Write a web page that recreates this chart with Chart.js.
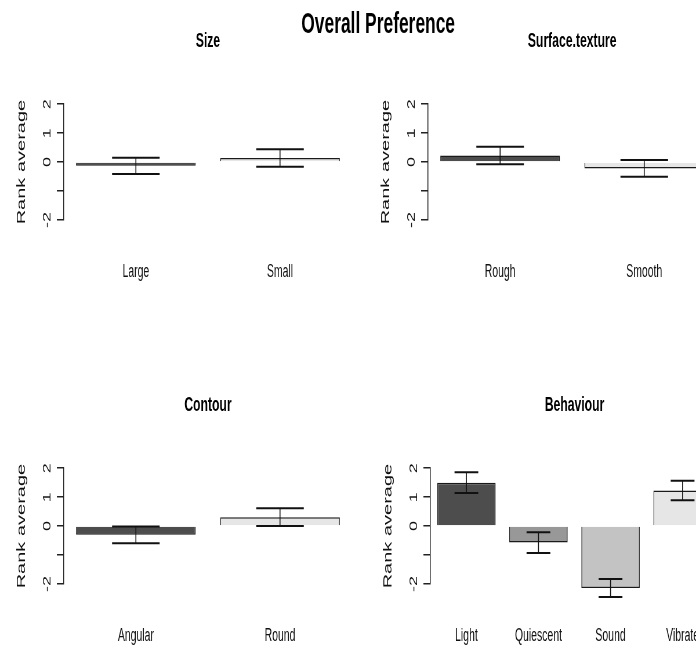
<!DOCTYPE html>
<html>
<head>
<meta charset="utf-8">
<script src="https://cdn.jsdelivr.net/npm/chart.js@4.4.1/dist/chart.umd.min.js"></script>
<style>
  html, body { margin: 0; padding: 0; background: #fff; width: 696px; height: 648px; overflow: hidden; }
  #wrap { position: absolute; left: 0; top: 0; width: 1200px; height: 648px; overflow: hidden;
          transform: scaleX(0.58); transform-origin: 0 0; }
  canvas { position: absolute; }
  #main { position: absolute; left: 452px; width: 400px; top: 8px; text-align: center;
          font: bold 30px "Liberation Sans", Arial, sans-serif; line-height: 30px; color: #000; }
</style>
</head>
<body>
<div id="wrap">
  <canvas id="c1" width="717" height="300" style="left:0px;top:0px"></canvas>
  <canvas id="c2" width="717" height="300" style="left:628px;top:0px"></canvas>
  <canvas id="c3" width="717" height="300" style="left:0px;top:364px"></canvas>
  <canvas id="c4" width="717" height="300" style="left:632px;top:364px"></canvas>
  <div id="main">Overall Preference</div>
</div>
<script>
// ---- data ----
const sizeLabels = ['Large', 'Small'];
const sizeMeans = [-0.13, 0.14];
const sizeErr = [0.28, 0.30];

const textureLabels = ['Rough', 'Smooth'];
const textureMeans = [0.23, -0.22];
const textureErr = [0.30, 0.29];

const contourLabels = ['Angular', 'Round'];
const contourMeans = [-0.30, 0.31];
const contourErr = [0.29, 0.31];

const behaviourLabels = ['Light', 'Quiescent', 'Sound', 'Vibrate'];
const behaviourMeans = [1.50, -0.57, -2.14, 1.23];
const behaviourErr = [0.36, 0.36, 0.31, 0.34];

const yTicks = [-2, -1, 0, 1, 2];
const yTickLabels = ['-2', '', '0', '1', '2'];

const greys2 = ['#4D4D4D', '#E6E6E6'];
const greys4 = ['#4D4D4D', '#989898', '#C3C3C3', '#E6E6E6'];

Chart.defaults.font.family = '"Liberation Sans", Arial, sans-serif';
Chart.defaults.color = '#111';

function makePanel(id, title, labels, means, errs, colors, barPct) {
  const errData = labels.flatMap((c, i) => [
    { x: c, y: means[i] - errs[i] },
    { x: c, y: means[i] + errs[i] },
    { x: c, y: null }
  ]);
  new Chart(document.getElementById(id), {
    type: 'bar',
    data: {
      labels: labels,
      datasets: [
        {
          type: 'bar',
          data: means,
          backgroundColor: colors,
          borderColor: '#1a1a1a',
          borderWidth: 1.5,
          categoryPercentage: 1,
          barPercentage: barPct,
          clip: false,
          order: 1
        },
        {
          type: 'line',
          data: errData,
          borderColor: '#111',
          borderWidth: 1.6,
          spanGaps: false,
          pointStyle: 'line',
          pointBorderColor: '#111',
          pointBorderWidth: 2,
          pointRadius: (ctx) => {
            const xs = ctx.chart.scales.x;
            return xs.width / labels.length * 0.165;
          },
          clip: false,
          order: 0
        }
      ]
    },
    options: {
      responsive: false,
      animation: false,
      events: [],
      layout: { padding: 0 },
      plugins: {
        legend: { display: false },
        tooltip: { enabled: false },
        title: {
          display: true,
          text: title,
          color: '#000',
          font: { size: 21, weight: 'bold' },
          padding: { top: 29, bottom: 50 }
        }
      },
      scales: {
        x: {
          type: 'category',
          offset: true,
          grid: { display: false },
          border: { display: false },
          ticks: { font: { size: 18 }, color: '#111', padding: 33, autoSkip: false, maxRotation: 0 },
          afterFit: (s) => { s.height = 80; }
        },
        y: {
          type: 'linear',
          position: 'left',
          min: -2,
          max: 2,
          afterBuildTicks: (s) => { s.ticks = yTicks.map(v => ({ value: v })); },
          ticks: {
            autoSkip: false,
            minRotation: 90,
            maxRotation: 90,
            crossAlign: 'center',
            padding: 8,
            font: { size: 18 },
            color: '#111',
            callback: (v) => yTickLabels[yTicks.indexOf(v)]
          },
          grid: { display: true, drawOnChartArea: false, drawTicks: true, tickLength: 12, color: '#222', lineWidth: 1.5 },
          border: { display: true, color: '#222', width: 1.5 },
          title: { display: true, text: 'Rank average', font: { size: 20 }, color: '#111', padding: { top: 25, bottom: 0 } },
          afterFit: (s) => { s.width = 110; }
        },
        yr: {
          type: 'linear',
          position: 'right',
          display: true,
          ticks: { display: false },
          grid: { display: false },
          border: { display: false },
          afterFit: (s) => { s.width = 110; }
        }
      }
    }
  });
}

makePanel('c1', 'Size', sizeLabels, sizeMeans, sizeErr, greys2, 0.83);
makePanel('c2', 'Surface.texture', textureLabels, textureMeans, textureErr, greys2, 0.83);
makePanel('c3', 'Contour', contourLabels, contourMeans, contourErr, greys2, 0.83);
makePanel('c4', 'Behaviour', behaviourLabels, behaviourMeans, behaviourErr, greys4, 0.81);
</script>
</body>
</html>
